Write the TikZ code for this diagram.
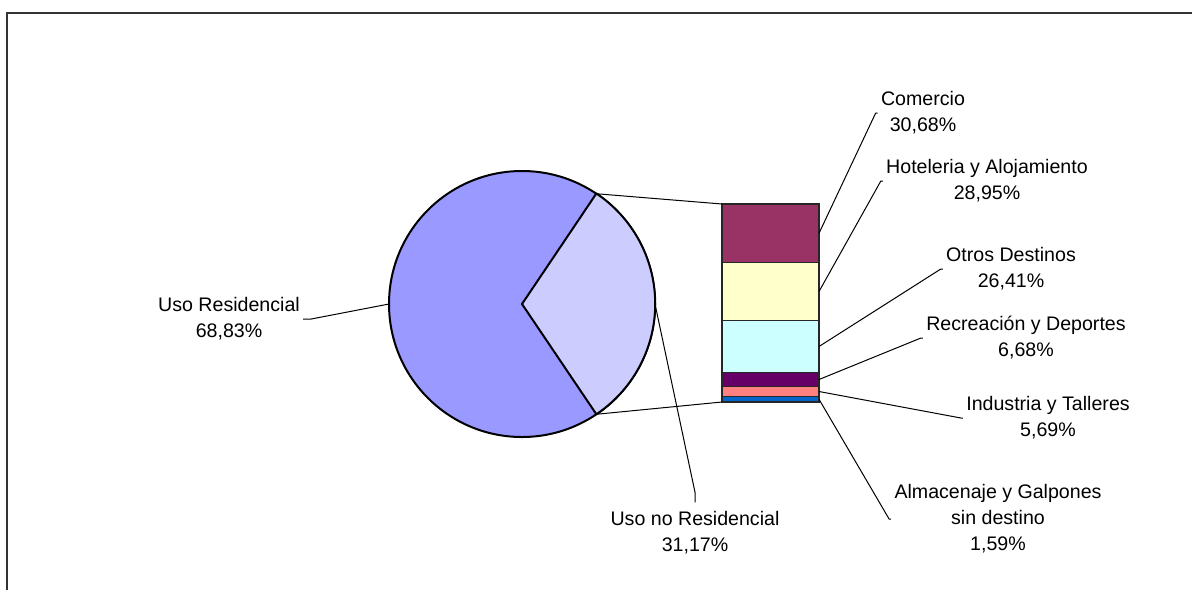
\documentclass[tikz,border=0pt]{standalone}
\usepackage{fontspec}
\setmainfont{Liberation Sans}
\usepackage{tikz}
\usetikzlibrary{positioning}
\definecolor{resid}{HTML}{9999FF}
\definecolor{noresid}{HTML}{CCCCFF}
\definecolor{comercio}{HTML}{993366}
\definecolor{hotel}{HTML}{FFFFCC}
\definecolor{otros}{HTML}{CCFFFF}
\definecolor{recre}{HTML}{660066}
\definecolor{indus}{HTML}{FF8080}
\definecolor{almac}{HTML}{0066CC}
\tikzset{
    pie/.style={circle, draw=black, line width=1pt, fill=resid, minimum size=133pt, inner sep=0pt, outer sep=0pt},
    slice/.style={draw=black, line width=1pt, fill=noresid, line join=round},
    barseg/.style={rectangle, draw=black!85, line width=0.8pt, minimum width=48.5pt, inner sep=0pt, outer sep=0pt},
    leader/.style={draw=black, line width=0.5pt},
    tag/.style={align=center, inner sep=1.5pt, font=\fontsize{9.8}{13}\selectfont},
    frame/.style={draw=black!80, line width=1pt}
}
\begin{document}
\begin{tikzpicture}[x=0.5pt, y=-0.5pt]
    \useasboundingbox (0,0) rectangle (1192,590);
    \draw[frame] (7,590) -- (7,13) -- (1192,13);

    % Pie
    \node[pie] (Pie) at (522,304) {};
    \draw[slice] (Pie.center) -- (Pie.-56.1) arc[start angle=-56.1, end angle=56.1, radius=66.5pt] -- cycle;

    % Bar
    \node[barseg, fill=comercio, minimum height=29.25pt, anchor=north west] (Comercio) at (722,204) {};
    \node[barseg, fill=hotel, minimum height=29pt, below=0pt of Comercio] (Hoteleria) {};
    \node[barseg, fill=otros, minimum height=26pt, below=0pt of Hoteleria] (Otros) {};
    \node[barseg, fill=recre, minimum height=7pt, below=0pt of Otros] (Recreacion) {};
    \node[barseg, fill=indus, minimum height=5pt, below=0pt of Recreacion] (Industria) {};
    \node[barseg, fill=almac, minimum height=2.75pt, below=0pt of Industria] (Almacenaje) {};

    \draw[leader] (Pie.56.1) -- (Comercio.north west);
    \draw[leader] (Pie.-56.1) -- (Almacenaje.south west);

    % Labels
    \node[tag] (ResLabel) at (229,319) {Uso Residencial\\68,83\%};
    \node[tag] (NoResLabel) at (695,533) {Uso no Residencial\\31,17\%};
    \node[tag] (ComLabel) at (923,113) {Comercio\\30,68\%};
    \node[tag] (HotLabel) at (987,181) {Hoteleria y Alojamiento\\28,95\%};
    \node[tag] (OtrLabel) at (1011,269) {Otros Destinos\\26,41\%};
    \node[tag] (RecLabel) at (1026,338) {Recreación y Deportes\\6,68\%};
    \node[tag] (IndLabel) at (1048,418) {Industria y Talleres\\5,69\%};
    \node[tag] (AlmLabel) at (998,519) {Almacenaje y Galpones\\sin destino\\1,59\%};

    % Leaders
    \draw[leader] (Pie.west) -- ([xshift=4pt]ResLabel.east) -- (ResLabel.east);
    \draw[leader] (Pie.east) -- ([yshift=8pt]NoResLabel.north) -- ([yshift=3pt]NoResLabel.north);
    \draw[leader] (Comercio.east) -- ([xshift=-1pt]ComLabel.west) -- (ComLabel.west);
    \draw[leader] (Hoteleria.east) -- ([xshift=-1pt]HotLabel.west) -- (HotLabel.west);
    \draw[leader] (Otros.east) -- ([xshift=-1pt]OtrLabel.west) -- (OtrLabel.west);
    \draw[leader] (Recreacion.east) -- ([xshift=-1pt]RecLabel.west) -- (RecLabel.west);
    \draw[leader] (Industria.east) -- ([xshift=-1pt]IndLabel.west) -- (IndLabel.west);
    \draw[leader] (Almacenaje.east) -- ([xshift=-1pt]AlmLabel.west) -- (AlmLabel.west);
\end{tikzpicture}
\end{document}
